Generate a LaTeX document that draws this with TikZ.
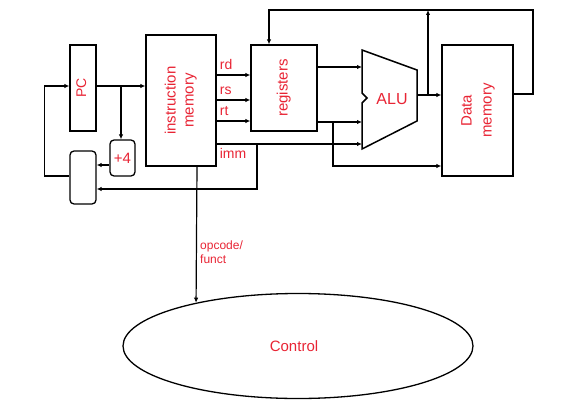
\documentclass[tikz,border=0pt]{standalone}
\usepackage{fontspec}
\setmainfont{Liberation Sans}
\usetikzlibrary{arrows.meta,shapes.geometric}
\definecolor{lblred}{RGB}{232,36,52}
\tikzset{
  blk/.style={draw=black,line width=1.3pt,inner sep=0pt},
  arr/.style={line width=1.2pt,-{Latex[length=5pt,width=4.5pt]}},
  wire/.style={line width=1.2pt},
  lbl/.style={text=lblred,font=\fontsize{14}{16}\selectfont,inner sep=1pt}
}
\newcommand{\vtext}[1]{\rotatebox{90}{\begin{tabular}{@{}c@{}}#1\end{tabular}}}
\begin{document}
\begin{tikzpicture}[x=1pt,y=-1pt]
\useasboundingbox (0,0) rectangle (578,404);
% blocks
\node[blk,minimum width=26pt,minimum height=86pt] (pc) at (83,88) {};
\node[lbl] at (pc) {\vtext{PC}};
\node[blk,minimum width=70pt,minimum height=131pt] (imem) at (181,100.5) {};
\node[lbl,font=\fontsize{15}{18}\selectfont] at (imem) {\vtext{instruction\\memory}};
\node[blk,rounded corners=4pt,minimum width=25pt,minimum height=36pt] (plus) at (122.5,158) {};
\node[lbl,font=\fontsize{15}{18}\selectfont] at (plus) {+4};
\node[blk,rounded corners=4pt,minimum width=26pt,minimum height=53pt] (mux) at (83,177.5) {};
\node[blk,minimum width=66pt,minimum height=86pt] (regs) at (284,88) {};
\node[lbl,font=\fontsize{15}{18}\selectfont] at (regs) {\vtext{registers}};
\node[blk,minimum width=71pt,minimum height=131pt] (dmem) at (477.5,110.5) {};
\node[lbl,font=\fontsize{15}{20}\selectfont] at (dmem) {\vtext{Data\\memory}};
\node[blk,ellipse,minimum width=350pt,minimum height=105pt] (ctrl) at (298,346) {};
\node[lbl,font=\fontsize{15}{18}\selectfont] at (294,346) {Control};
% ALU
\draw[line width=1.5pt] (362,50) -- (417,70) -- (417,121) -- (362,149) -- (362,103)
  -- (367,98) -- (362,93) -- cycle;
\node[lbl,font=\fontsize{16}{18}\selectfont] (alu) at (392,99) {ALU};
% PC loop
\draw[arr] (pc.east |- 0,86) -- (imem.west |- 0,86);
\draw[arr] (121,86) -- (121,0 |- plus.north);
\draw[arr] ([yshift=-7pt]plus.west) -- ([yshift=-7pt]plus.west -| mux.east);
\draw[arr] ([yshift=1.5pt]mux.west) -- ++(-25,0) |- (pc.west |- 0,86);
% instruction fields
\foreach \y/\t in {75/rd,100/rs,121/rt}{
  \draw[arr] (imem.east |- 0,\y) -- (regs.west |- 0,\y);
  \node[lbl,anchor=south west] at ([xshift=2pt,yshift=4pt]imem.east |- 0,\y) {\t};
}
\draw[arr] (imem.east |- 0,144) -- (362,144);
\node[lbl,anchor=north west] at ([xshift=2pt,yshift=-3pt]imem.east |- 0,144) {imm};
\draw[arr] (257,144) |- (mux.east |- 0,189);
% register outputs
\draw[arr] (regs.east |- 0,67) -- (362,67);
\draw[arr] (regs.east |- 0,122) -- (362,122);
\draw[arr] (333,122) |- (dmem.west |- 0,166);
% ALU result and write back
\draw[arr] (417,95) -- (dmem.west |- 0,95);
\draw[arr] (428,95) -- (428,10);
\draw[arr] (dmem.east |- 0,94) -| (533,10) -| ([xshift=-15pt]regs.north);
% control
\draw[arr] (197,0 |- imem.south) -- (ctrl.157);
\node[lbl,anchor=north west,align=left,font=\fontsize{12}{14}\selectfont] at (199,240) {opcode/\\funct};
\end{tikzpicture}
\end{document}
